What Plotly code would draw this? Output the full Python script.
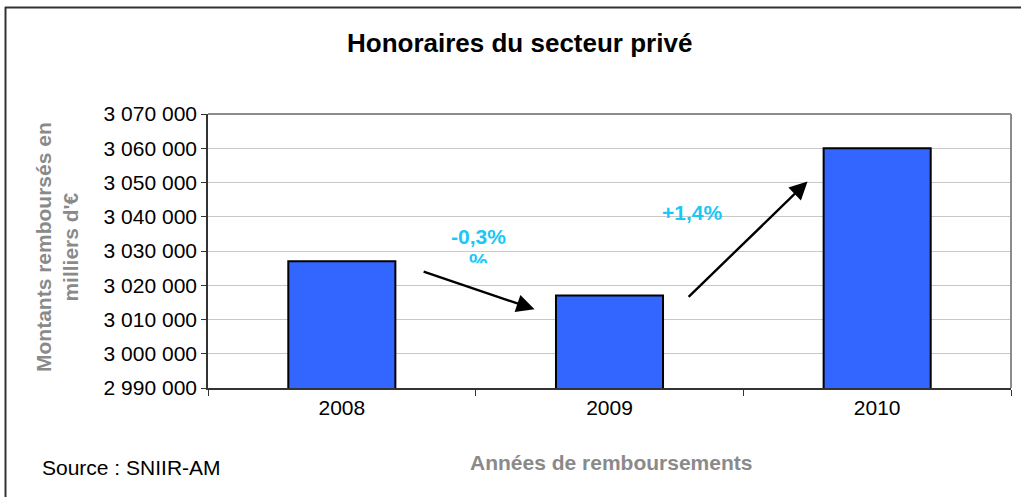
import plotly.graph_objects as go

# ---- data ----
years = ["2008", "2009", "2010"]
amounts = [3027000, 3017000, 3060000]
y_ticks = [2990000, 3000000, 3010000, 3020000, 3030000, 3040000, 3050000, 3060000, 3070000]

title = "Honoraires du secteur privé"
y_title = "Montants remboursés en<br>milliers d'€"
x_title = "Années de remboursements"
source = "Source : SNIIR-AM"

# percent changes computed from the data
pct = [(amounts[i + 1] / amounts[i] - 1) * 100 for i in range(len(amounts) - 1)]
pct_labels = [("+" if p > 0 else "-") + f"{abs(p):.1f}".replace(".", ",") + "%" for p in pct]

W, H = 1021, 497
L, R, T, B = 208, 10, 114, 109
pw, ph = W - L - R, H - T - B


def px(x):
    return (x - L) / pw


def py(y):
    return (H - B - y) / ph


fig = go.Figure()
fig.add_trace(go.Bar(
    x=years, y=amounts, width=0.4,
    marker=dict(color="#3366FF", line=dict(color="#000000", width=2)),
    hoverinfo="x+y",
))

cyan = "#19C8F5"
# remnant "%" glyph below -0,3% (clipped in original), on an overlay linear axis
fig.add_trace(go.Scatter(
    x=[0.51], y=[3026600], mode="text", text=["<b>%</b>"], xaxis="x2",
    textfont=dict(family="Liberation Sans", size=21, color=cyan),
    showlegend=False, hoverinfo="skip",
))

ann_font = dict(family="Liberation Sans", size=21, color=cyan)
annotations = []
# arrows (start/end in data coords)
arrows = [
    ((0.30, 3024100), (0.72, 3013000)),
    ((1.29, 3016200), (1.74, 3050300)),
]
for (x0, y0), (x1, y1) in arrows:
    annotations.append(dict(
        x=x1, y=y1, ax=x0, ay=y0, xref="x", yref="y", axref="x", ayref="y",
        showarrow=True, arrowhead=2, arrowsize=1.5, arrowwidth=2.4, arrowcolor="#000000",
        text="",
    ))
label_pos = [(0.51, 3034300), (1.31, 3041200)]
for (lx, ly), t in zip(label_pos, pct_labels):
    annotations.append(dict(x=lx, y=ly, xref="x", yref="y", text="<b>" + t + "</b>",
                            xanchor="center", yanchor="middle",
                            showarrow=False, font=ann_font))

annotations += [
    dict(x=px(519), y=py(43), xref="paper", yref="paper", text="<b>" + title + "</b>",
         xanchor="center", yanchor="middle",
         showarrow=False, font=dict(family="Liberation Sans", size=26, color="#000000")),
    dict(x=px(57), y=py(247), xref="paper", yref="paper", text="<b>" + y_title + "</b>",
         textangle=-90, showarrow=False, xanchor="center", yanchor="middle",
         font=dict(family="Liberation Sans", size=21, color="#8A8A8A")),
    dict(x=px(611), y=py(462), xref="paper", yref="paper", text="<b>" + x_title + "</b>",
         xanchor="center", yanchor="middle",
         showarrow=False, font=dict(family="Liberation Sans", size=21, color="#8A8A8A")),
    dict(x=px(40), y=py(467), xref="paper", yref="paper", text=source,
         xanchor="left", yanchor="middle",
         showarrow=False, font=dict(family="Liberation Sans", size=21, color="#000000")),
]

shapes = [
    # white cover clipping the lower part of the remnant "%"
    dict(type="rect", xref="x2", yref="y", x0=0.40, x1=0.62, y0=3020700, y1=3026400,
         fillcolor="#FFFFFF", line=dict(width=0), layer="above"),
    # plot area border (top/right grey)
    dict(type="line", xref="paper", yref="paper", x0=0, x1=1, y0=1, y1=1,
         line=dict(color="#8C8C8C", width=2)),
    dict(type="line", xref="paper", yref="paper", x0=1, x1=1, y0=0, y1=1,
         line=dict(color="#8C8C8C", width=2)),
    # outer frame (top and left)
    dict(type="line", xref="paper", yref="paper", x0=px(5), x1=px(W + 5), y0=py(7.5), y1=py(7.5),
         line=dict(color="#333333", width=2)),
    dict(type="line", xref="paper", yref="paper", x0=px(5.5), x1=px(5.5), y0=py(7), y1=py(H + 5),
         line=dict(color="#333333", width=2)),
]

fig.update_layout(
    width=W, height=H, autosize=False,
    margin=dict(l=L, r=R, t=T, b=B, pad=0),
    paper_bgcolor="#FFFFFF", plot_bgcolor="#FFFFFF",
    separators=", ",
    showlegend=False,
    annotations=annotations,
    shapes=shapes,
    font=dict(family="Liberation Sans", color="#000000"),
    xaxis2=dict(overlaying="x", range=[-0.5, 2.5], visible=False, fixedrange=True),
)
fig.update_yaxes(
    range=[y_ticks[0], y_ticks[-1]], tickvals=y_ticks, tickformat=",d",
    showgrid=True, gridcolor="#C8C8C8", gridwidth=1,
    showline=True, linecolor="#333333", linewidth=1.5,
    ticks="outside", ticklen=5, tickcolor="#333333",
    tickfont=dict(family="Liberation Sans", size=21, color="#000000"),
    zeroline=False, fixedrange=True,
)
fig.layout.xaxis.update(
    type="category", range=[-0.5, 2.5],
    showline=True, linecolor="#333333", linewidth=1.5,
    ticks="outside", ticklen=6, tickcolor="#333333", tickson="boundaries",
    tickfont=dict(family="Liberation Sans", size=21, color="#000000"),
    showgrid=False, fixedrange=True,
)

fig.write_html("out.html", config={"displayModeBar": False},
               post_script="document.body.style.margin='0';document.body.style.overflow='hidden';")
